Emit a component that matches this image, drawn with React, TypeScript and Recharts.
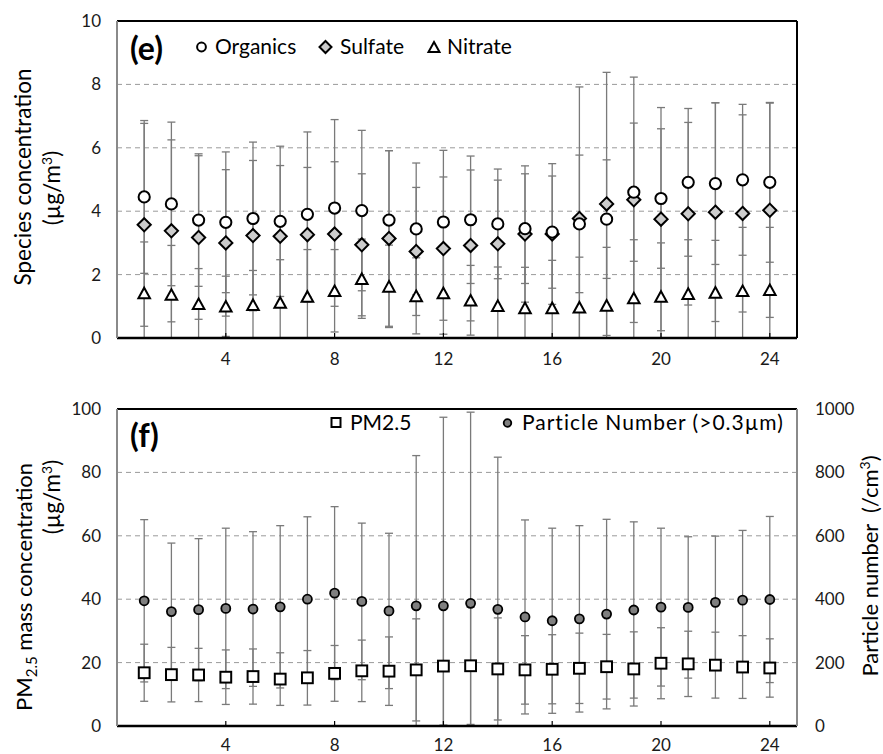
import React from 'react';
import {
  ScatterChart,
  Scatter,
  XAxis,
  YAxis,
  CartesianGrid,
  ErrorBar,
  ReferenceLine,
  Customized,
} from 'recharts';

// ---------- data ----------
const hours = [1, 2, 3, 4, 5, 6, 7, 8, 9, 10, 11, 12, 13, 14, 15, 16, 17, 18, 19, 20, 21, 22, 23, 24];
const xTicks = [4, 8, 12, 16, 20, 24];
const speciesTicks = [0, 2, 4, 6, 8, 10];
const pmTicks = [0, 20, 40, 60, 80, 100];
const pnTicks = [0, 200, 400, 600, 800, 1000];

const organics = [4.45, 4.23, 3.72, 3.65, 3.77, 3.68, 3.9, 4.1, 4.02, 3.72, 3.44, 3.66, 3.73, 3.6, 3.45, 3.34, 3.6, 3.75, 4.6, 4.4, 4.91, 4.87, 4.99, 4.91];
const organicsErr = [2.41, 2.58, 2.09, 2.22, 2.41, 2.37, 2.6, 2.79, 2.53, 2.19, 2.08, 2.26, 2.01, 1.73, 1.73, 1.77, 2.17, 1.87, 2.18, 2.2, 2.33, 2.55, 2.38, 2.52];
const sulfate = [3.57, 3.38, 3.17, 3.0, 3.23, 3.21, 3.26, 3.28, 2.94, 3.14, 2.73, 2.82, 2.92, 2.97, 3.28, 3.28, 3.77, 4.23, 4.36, 3.75, 3.92, 3.97, 3.93, 4.03];
const sulfateErr = [3.2, 2.87, 2.58, 2.31, 2.37, 2.23, 2.12, 2.28, 2.24, 2.77, 2.02, 2.26, 2.38, 2.01, 2.15, 2.22, 4.15, 4.15, 3.87, 3.52, 2.88, 3.45, 3.11, 3.38];
const nitrate = [1.42, 1.37, 1.08, 1.0, 1.05, 1.12, 1.31, 1.49, 1.87, 1.63, 1.33, 1.42, 1.19, 1.02, 0.95, 0.95, 0.97, 1.03, 1.26, 1.31, 1.4, 1.44, 1.49, 1.52];
const nitrateErr = [1.61, 1.55, 1.11, 0.95, 1.08, 1.35, 1.48, 1.3, 1.25, 1.3, 1.2, 1.3, 1.1, 1.22, 1.28, 1.5, 1.58, 1.83, 1.84, 1.69, 1.7, 1.64, 2.0, 1.97];

const pm25 = [16.8, 16.2, 16.1, 15.4, 15.6, 14.8, 15.2, 16.6, 17.4, 17.3, 17.7, 18.9, 19.0, 18.0, 17.7, 17.9, 18.2, 18.7, 18.0, 19.8, 19.6, 19.2, 18.6, 18.3];
const pm25Err = [9.0, 8.6, 8.4, 8.6, 8.7, 8.3, 8.6, 8.8, 9.7, 10.8, 16.1, 18.6, 18.5, 16.1, 10.8, 10.9, 11.1, 10.2, 11.7, 11.2, 10.3, 10.4, 9.9, 9.2];
const particleNumber = [395, 361, 367, 371, 369, 376, 400, 419, 393, 363, 379, 379, 387, 368, 344, 332, 338, 353, 366, 375, 374, 390, 397, 399];
const particleNumberErr = [256, 216, 224, 253, 244, 256, 260, 273, 247, 245, 474, 595, 603, 480, 306, 292, 294, 299, 278, 249, 223, 209, 220, 262];

// error bars are cut at the axis floor (0), as in the reference
const build = (vals: number[], errs: number[]) =>
  hours.map((h, i) => ({ x: h, y: vals[i], err: [Math.min(errs[i], vals[i]), errs[i]] }));

const organicsData = build(organics, organicsErr);
const sulfateData = build(sulfate, sulfateErr);
const nitrateData = build(nitrate, nitrateErr);
const pm25Data = build(pm25, pm25Err);
const pnData = build(particleNumber, particleNumberErr);

// ---------- styles ----------
const FONT = 'Lato, "Open Sans", sans-serif';
const TEXT = '#1a1a1a';
const ERR = '#7a7a7a';
const GRID = '#9a9a9a';

const diamondPath = (cx: number, cy: number, h: number) =>
  `M${cx},${cy - h} L${cx + h},${cy} L${cx},${cy + h} L${cx - h},${cy} Z`;
const trianglePath = (cx: number, cy: number, h: number, w: number) =>
  `M${cx},${cy - h} L${cx + w},${cy + h} L${cx - w},${cy + h} Z`;

const NoShape = () => <g />;
const CircleShape = (p: any) => (
  <circle cx={p.cx} cy={p.cy} r={5.6} fill="#fff" stroke="#000" strokeWidth={2} />
);
const DiamondShape = (p: any) => (
  <path d={diamondPath(p.cx, p.cy, 6.6)} fill="#cccccc" stroke="#000" strokeWidth={2} />
);
const TriangleShape = (p: any) => (
  <path d={trianglePath(p.cx, p.cy, 5.3, 5.8)} fill="#fff" stroke="#000" strokeWidth={2} />
);
const SquareShape = (p: any) => (
  <rect x={p.cx - 5.4} y={p.cy - 5.4} width={10.8} height={10.8} fill="#fff" stroke="#000" strokeWidth={2} />
);
const DotShape = (p: any) => (
  <circle cx={p.cx} cy={p.cy} r={4.5} fill="#7f7f7f" stroke="#000" strokeWidth={1.8} />
);

const makeXTick = (margin: number) => (p: any) => (
  <g>
    <line x1={p.x} x2={p.x} y1={p.y - margin} y2={p.y - margin - 5} stroke="#000" strokeWidth={1.2} />
    <text x={p.x} y={p.y} dy="0.72em" textAnchor="middle" fontSize={17} fontFamily={FONT} fill={TEXT}>
      {p.payload.value}
    </text>
  </g>
);
const TopXTick = makeXTick(15);
const BottomXTick = makeXTick(13);

const tickStyle = { fontSize: 17, fontFamily: FONT, fill: TEXT };

const Sup3 = () => (
  <>
    <tspan dy={-8} fontSize={14}>3</tspan>
    <tspan dy={8}>)</tspan>
  </>
);

const TopDecor = () => (
  <g fontFamily={FONT} fill="#000">
    <text transform="translate(31,177) rotate(-90)" textAnchor="middle" fontSize={22.5}>
      Species concentration
    </text>
    <text transform="translate(60,188) rotate(-90)" textAnchor="middle" fontSize={22.5}>
      (µg/m<Sup3 />
    </text>
    <text x={130} y={60} fontSize={32} fontWeight="bold">
      (e)
    </text>
    <circle cx={201.5} cy={47} r={4.4} fill="#fff" stroke="#000" strokeWidth={2} />
    <text x={215} y={53.5} fontSize={21}>
      Organics
    </text>
    <path d={diamondPath(325.5, 47, 6)} fill="#cccccc" stroke="#000" strokeWidth={2} />
    <text x={340} y={53.5} fontSize={21}>
      Sulfate
    </text>
    <path d={trianglePath(434, 47, 5, 5.5)} fill="#fff" stroke="#000" strokeWidth={2} />
    <text x={447} y={53.5} fontSize={21}>
      Nitrate
    </text>
  </g>
);

const BottomDecor = () => (
  <g fontFamily={FONT} fill="#000">
    <text transform="translate(32,207) rotate(-90)" textAnchor="middle" fontSize={22}>
      PM<tspan dy={5} fontSize={15}>2.5</tspan>
      <tspan dy={-5}> mass concentration</tspan>
    </text>
    <text transform="translate(60,117) rotate(-90)" textAnchor="middle" fontSize={22.5}>
      (µg/m<Sup3 />
    </text>
    <text transform="translate(878,186) rotate(-90)" textAnchor="middle" fontSize={22}>
      Particle number{'\u00A0\u00A0'}(/cm<Sup3 />
    </text>
    <text x={130} y={67} fontSize={32} fontWeight="bold">
      (f)
    </text>
    <rect x={331.5} y={38} width={9} height={9} fill="#fff" stroke="#000" strokeWidth={2} />
    <text x={350} y={50} fontSize={21}>
      PM2.5
    </text>
    <circle cx={507.5} cy={43} r={3.8} fill="#7f7f7f" stroke="#000" strokeWidth={1.8} />
    <text x={522} y={50} fontSize={21} letterSpacing={1}>
      Particle Number (&gt;0.3µm)
    </text>
  </g>
);

const errBar = (
  <ErrorBar dataKey="err" direction="y" width={4} stroke={ERR} strokeWidth={1.3} />
);

export default function App() {
  return (
    <div style={{ position: 'absolute', top: 0, left: 0, width: 883, height: 754, background: '#fff' }}>
      <ScatterChart width={883} height={380} margin={{ top: 21, right: 86, bottom: 0, left: 0 }}>
        <CartesianGrid vertical={false} stroke={GRID} strokeDasharray="5 4" />
        <XAxis
          type="number"
          dataKey="x"
          domain={[0, 25]}
          ticks={xTicks}
          allowDataOverflow
          height={42}
          axisLine={{ stroke: '#000', strokeWidth: 2.5 }}
          tickLine={false}
          tickSize={0}
          tickMargin={15}
          tick={<TopXTick />}
        />
        <YAxis
          type="number"
          dataKey="y"
          domain={[0, 10]}
          ticks={speciesTicks}
          allowDataOverflow
          width={117}
          axisLine={{ stroke: '#8a8a8a', strokeWidth: 2 }}
          tickLine={false}
          tickSize={0}
          tickMargin={16}
          tick={tickStyle}
        />
        <ReferenceLine y={10} stroke="#000" strokeWidth={2} />
        <ReferenceLine x={25} stroke="#000" strokeWidth={2} />
        <Scatter data={organicsData} shape={NoShape} isAnimationActive={false}>
          {errBar}
        </Scatter>
        <Scatter data={sulfateData} shape={NoShape} isAnimationActive={false}>
          {errBar}
        </Scatter>
        <Scatter data={nitrateData} shape={NoShape} isAnimationActive={false}>
          {errBar}
        </Scatter>
        <Scatter data={nitrateData} shape={TriangleShape} isAnimationActive={false} />
        <Scatter data={sulfateData} shape={DiamondShape} isAnimationActive={false} />
        <Scatter data={organicsData} shape={CircleShape} isAnimationActive={false} />
        <Customized component={TopDecor} />
      </ScatterChart>
      <ScatterChart width={883} height={374} margin={{ top: 29, right: 0, bottom: 0, left: 0 }}>
        <CartesianGrid vertical={false} stroke={GRID} strokeDasharray="5 4" yAxisId="left" />
        <XAxis
          type="number"
          dataKey="x"
          domain={[0, 25]}
          ticks={xTicks}
          allowDataOverflow
          height={28}
          axisLine={{ stroke: '#000', strokeWidth: 2.5 }}
          tickLine={false}
          tickSize={0}
          tickMargin={13}
          tick={<BottomXTick />}
        />
        <YAxis
          yAxisId="left"
          type="number"
          dataKey="y"
          domain={[0, 100]}
          ticks={pmTicks}
          allowDataOverflow
          width={117}
          axisLine={{ stroke: '#8a8a8a', strokeWidth: 2 }}
          tickLine={false}
          tickSize={0}
          tickMargin={16}
          tick={tickStyle}
        />
        <YAxis
          yAxisId="right"
          orientation="right"
          type="number"
          dataKey="y"
          domain={[0, 1000]}
          ticks={pnTicks}
          allowDataOverflow
          width={86}
          axisLine={{ stroke: '#8a8a8a', strokeWidth: 2 }}
          tickLine={false}
          tickSize={0}
          tickMargin={18}
          tick={tickStyle}
        />
        <ReferenceLine yAxisId="left" y={100} stroke="#000" strokeWidth={2} />
        <Scatter yAxisId="right" data={pnData} shape={NoShape} isAnimationActive={false}>
          {errBar}
        </Scatter>
        <Scatter yAxisId="left" data={pm25Data} shape={NoShape} isAnimationActive={false}>
          {errBar}
        </Scatter>
        <Scatter yAxisId="left" data={pm25Data} shape={SquareShape} isAnimationActive={false} />
        <Scatter yAxisId="right" data={pnData} shape={DotShape} isAnimationActive={false} />
        <Customized component={BottomDecor} />
      </ScatterChart>
    </div>
  );
}
